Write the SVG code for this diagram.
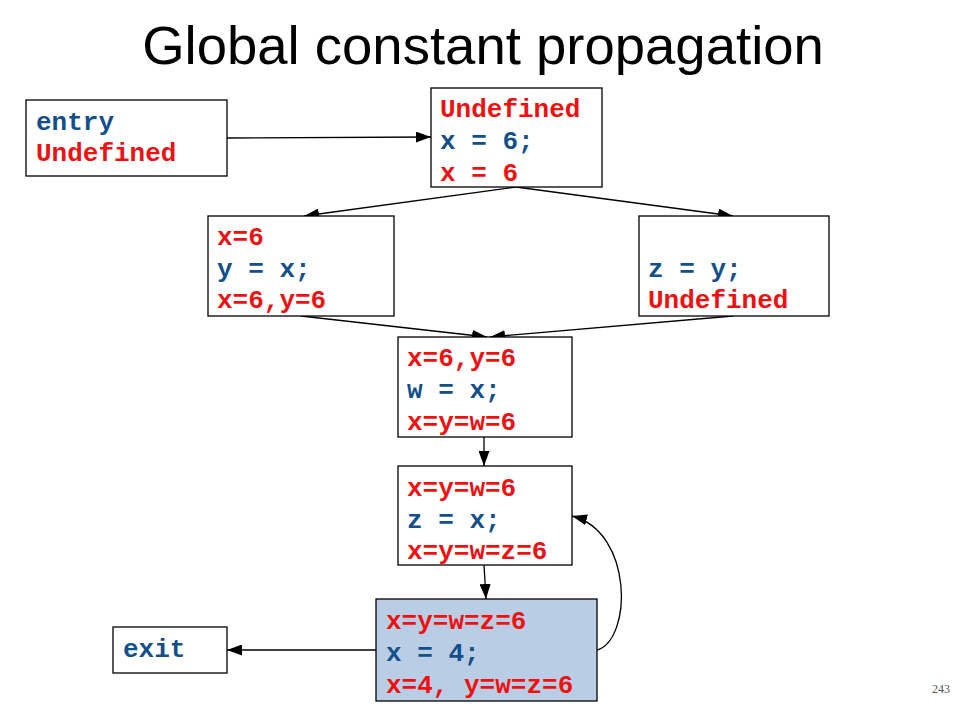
<svg xmlns="http://www.w3.org/2000/svg" width="960" height="720" viewBox="0 0 960 720">
<style>
.box{fill:#fff;stroke:#000;stroke-width:1.3}
.hl{fill:#b9cde5}
.t{font-family:"Liberation Mono","Courier New",monospace;font-weight:bold;font-size:26px}
.r{fill:#ee1111}
.b{fill:#134f8a}
.e{fill:none;stroke:#000;stroke-width:1.3}
</style>
<defs>
<marker id="ah" viewBox="0 0 15 11" refX="15" refY="5.5" markerWidth="15" markerHeight="11" markerUnits="userSpaceOnUse" orient="auto">
<path d="M0,0 L15,5.5 L0,11 Z" fill="#000"/>
</marker>
</defs>
<rect width="960" height="720" fill="#fff"/>
<text x="483" y="64" text-anchor="middle" font-family="Liberation Sans, Arial, sans-serif" font-size="54.5" fill="#000">Global constant propagation</text>

<g id="connectors">
<path class="e" d="M227,138 L431,137" marker-end="url(#ah)"/>
<path class="e" d="M516,187 L304,216" marker-end="url(#ah)"/>
<path class="e" d="M516,187 L733,216" marker-end="url(#ah)"/>
<path class="e" d="M301,316 L487,337" marker-end="url(#ah)"/>
<path class="e" d="M733,316 L490,337" marker-end="url(#ah)"/>
<path class="e" d="M484,437 L484,466" marker-end="url(#ah)"/>
<path class="e" d="M484,565 L486,599" marker-end="url(#ah)"/>
<path class="e" d="M597,650 C632,640 634,532 572,516" marker-end="url(#ah)"/>
<path class="e" d="M376,650 L227,650" marker-end="url(#ah)"/>
</g>

<g id="entry">
<rect class="box" x="26" y="100" width="201" height="76"/>
<text class="t b" x="36" y="130">entry</text>
<text class="t r" x="36" y="161">Undefined</text>
</g>

<g id="n1">
<rect class="box" x="431" y="88" width="171" height="99"/>
<text class="t r" x="440" y="117">Undefined</text>
<text class="t b" x="440" y="149" xml:space="preserve">x = 6;</text>
<text class="t r" x="440" y="181" xml:space="preserve">x = 6</text>
</g>

<g id="n2">
<rect class="box" x="208" y="216" width="186" height="100"/>
<text class="t r" x="217" y="245">x=6</text>
<text class="t b" x="217" y="277" xml:space="preserve">y = x;</text>
<text class="t r" x="217" y="308">x=6,y=6</text>
</g>

<g id="n3">
<rect class="box" x="639" y="216" width="190" height="100"/>
<text class="t b" x="648" y="277" xml:space="preserve">z = y;</text>
<text class="t r" x="648" y="308">Undefined</text>
</g>

<g id="n4">
<rect class="box" x="398" y="337" width="174" height="100"/>
<text class="t r" x="407" y="366">x=6,y=6</text>
<text class="t b" x="407" y="398" xml:space="preserve">w = x;</text>
<text class="t r" x="407" y="430">x=y=w=6</text>
</g>

<g id="n5">
<rect class="box" x="398" y="466" width="174" height="99"/>
<text class="t r" x="407" y="496">x=y=w=6</text>
<text class="t b" x="407" y="528" xml:space="preserve">z = x;</text>
<text class="t r" x="407" y="559">x=y=w=z=6</text>
</g>

<g id="n6">
<rect class="box hl" x="376" y="599" width="221" height="102"/>
<text class="t r" x="386" y="629">x=y=w=z=6</text>
<text class="t b" x="386" y="661" xml:space="preserve">x = 4;</text>
<text class="t r" x="386" y="693" xml:space="preserve">x=4, y=w=z=6</text>
</g>

<g id="exit">
<rect class="box" x="113" y="627" width="114" height="46"/>
<text class="t b" x="123" y="657">exit</text>
</g>

<text x="950" y="693" text-anchor="end" font-family="Liberation Serif, serif" font-size="12" fill="#555">243</text>
</svg>
